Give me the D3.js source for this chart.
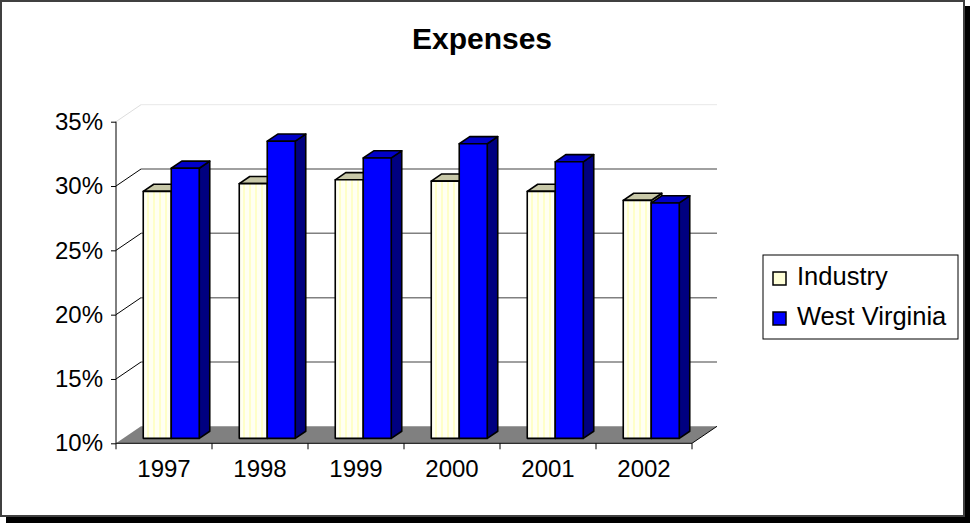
<!DOCTYPE html>
<html>
<head>
<meta charset="utf-8">
<script src="https://cdn.jsdelivr.net/npm/d3@7"></script>
<style>
html,body{margin:0;padding:0;background:#fff;}
svg{display:block;}
text{font-family:Arial,"Liberation Sans",sans-serif;}
</style>
</head>
<body>
<svg id="chart" width="970" height="523"></svg>
<script>
const years = ["1997","1998","1999","2000","2001","2002"];
const seriesNames = ["Industry","West Virginia"];
const industry = [29.2, 29.8, 30.1, 30.0, 29.2, 28.5];
const westVirginia = [31.0, 33.1, 31.8, 32.9, 31.5, 28.3];
const yTicks = [10,15,20,25,30,35];
const title = "Expenses";

const svg = d3.select("#chart");
const defs = svg.append("defs");
const pat = defs.append("pattern").attr("id","stripes").attr("patternUnits","userSpaceOnUse")
  .attr("width",6).attr("height",10);
pat.append("rect").attr("width",6).attr("height",10).attr("fill","#FFFFF2");
pat.append("rect").attr("x",3).attr("width",2).attr("height",10).attr("fill","#FFFFC8");

// frame
svg.append("rect").attr("x",6).attr("y",6).attr("width",964).attr("height",517).attr("fill","#000");
svg.append("rect").attr("x",1).attr("y",1).attr("width",963).attr("height",515)
  .attr("fill","#fff").attr("stroke","#404040").attr("stroke-width",2);

// scales
const x0 = d3.scaleBand().domain(years).range([116,692]).padding(0);
const x1 = d3.scaleBand().domain(seriesNames).range([20,76]).padding(0);
const y = d3.scaleLinear().domain([10,35]).range([443.3,121.7]);
const DX = 25, DY = -17;             // full depth offset
const tF = 0.29, tB = 0.71;          // bar depth range

// back wall gridlines
yTicks.forEach(v=>{
  if(v===10) return;
  const yy = y(v)+DY;
  svg.append("line").attr("x1",116+DX).attr("x2",692+DX).attr("y1",yy).attr("y2",yy)
    .attr("stroke", v===35 ? "#e8e8e8" : "#808080").attr("stroke-width", v===35?1:1.5);
  svg.append("line").attr("x1",116).attr("x2",116+DX).attr("y1",y(v)).attr("y2",yy)
    .attr("stroke", v===35 ? "#dddddd" : "#000").attr("stroke-width",1);
});

// floor
const yb = y(10);
svg.append("polygon")
  .attr("points",[[116,yb],[692,yb],[692+DX,yb+DY],[116+DX,yb+DY]].map(p=>p.join(",")).join(" "))
  .attr("fill","#808080");
svg.append("line").attr("x1",692).attr("y1",yb).attr("x2",692+DX).attr("y2",yb+DY)
  .attr("stroke","#000").attr("stroke-width",1);

// axes
const yAxis = d3.axisLeft(y).tickValues(yTicks).tickSize(5).tickFormat(d=>d+"%");
const gy = svg.append("g").attr("transform","translate(116,0)").call(yAxis);
gy.select(".domain").attr("stroke","#000").attr("d","M0,"+y(35)+"V"+y(10));
gy.selectAll("text").attr("font-size",24).attr("x",-13).attr("fill","#000")
  .attr("font-family","Arial, 'Liberation Sans', sans-serif");

const xAxis = d3.axisBottom(x0).tickSize(0).tickSizeOuter(0);
const gx = svg.append("g").attr("transform","translate(0,"+yb+")").call(xAxis);
gx.select(".domain").attr("stroke","#000").attr("d","M116,0H692");
gx.selectAll("text").attr("font-size",24).attr("dy",0).attr("y",34).attr("fill","#000")
  .attr("font-family","Arial, 'Liberation Sans', sans-serif");
// category tick marks at boundaries
const bounds = years.map(d=>x0(d)).concat([x0(years[years.length-1])+x0.bandwidth()]);
svg.selectAll(".xt").data(bounds).enter().append("line")
  .attr("x1",d=>d).attr("x2",d=>d).attr("y1",yb).attr("y2",yb+6).attr("stroke","#000");

// bars
const data = [industry, westVirginia];
const fills = [
  {front:"url(#stripes)", top:"#C8C8A8", side:"#A0A080"},
  {front:"#0000FF", top:"#0000C8", side:"#000080"}
];
const ox = DX*tF, oy = DY*tF;
const bdx = DX*(tB-tF), bdy = DY*(tB-tF);
years.forEach((yr,i)=>{
  seriesNames.forEach((s,j)=>{
    const v = data[j][i];
    const xl = x0(yr)+x1(s)+ox;
    const xr = xl + x1.bandwidth();
    const yt = y(v)+oy, ybt = y(10)+oy;
    const g = svg.append("g").attr("stroke","#000").attr("stroke-width",1.6).attr("stroke-linejoin","round");
    g.append("polygon").attr("points",[[xr,ybt],[xr+bdx,ybt+bdy],[xr+bdx,yt+bdy],[xr,yt]].map(p=>p.join(",")).join(" "))
      .attr("fill",fills[j].side);
    g.append("polygon").attr("points",[[xl,yt],[xr,yt],[xr+bdx,yt+bdy],[xl+bdx,yt+bdy]].map(p=>p.join(",")).join(" "))
      .attr("fill",fills[j].top);
    g.append("rect").attr("x",xl).attr("y",yt).attr("width",xr-xl).attr("height",ybt-yt)
      .attr("fill",fills[j].front);
  });
});

// title
svg.append("text").attr("x",482).attr("y",49).attr("text-anchor","middle")
  .attr("font-size",30).attr("font-weight","bold").text(title);

// legend
svg.append("rect").attr("x",763).attr("y",255).attr("width",195).attr("height",84)
  .attr("fill","#fff").attr("stroke","#000").attr("stroke-width",1);
const legFills = ["#FFFFD8","#0000FF"];
seriesNames.forEach((s,j)=>{
  const by = 285 + j*40;
  svg.append("rect").attr("x",773).attr("y",by-13).attr("width",13).attr("height",13)
    .attr("fill",legFills[j]).attr("stroke","#000").attr("stroke-width",1.5);
  svg.append("text").attr("x",797).attr("y",by).attr("font-size",25.5).text(s);
});
</script>
</body>
</html>
